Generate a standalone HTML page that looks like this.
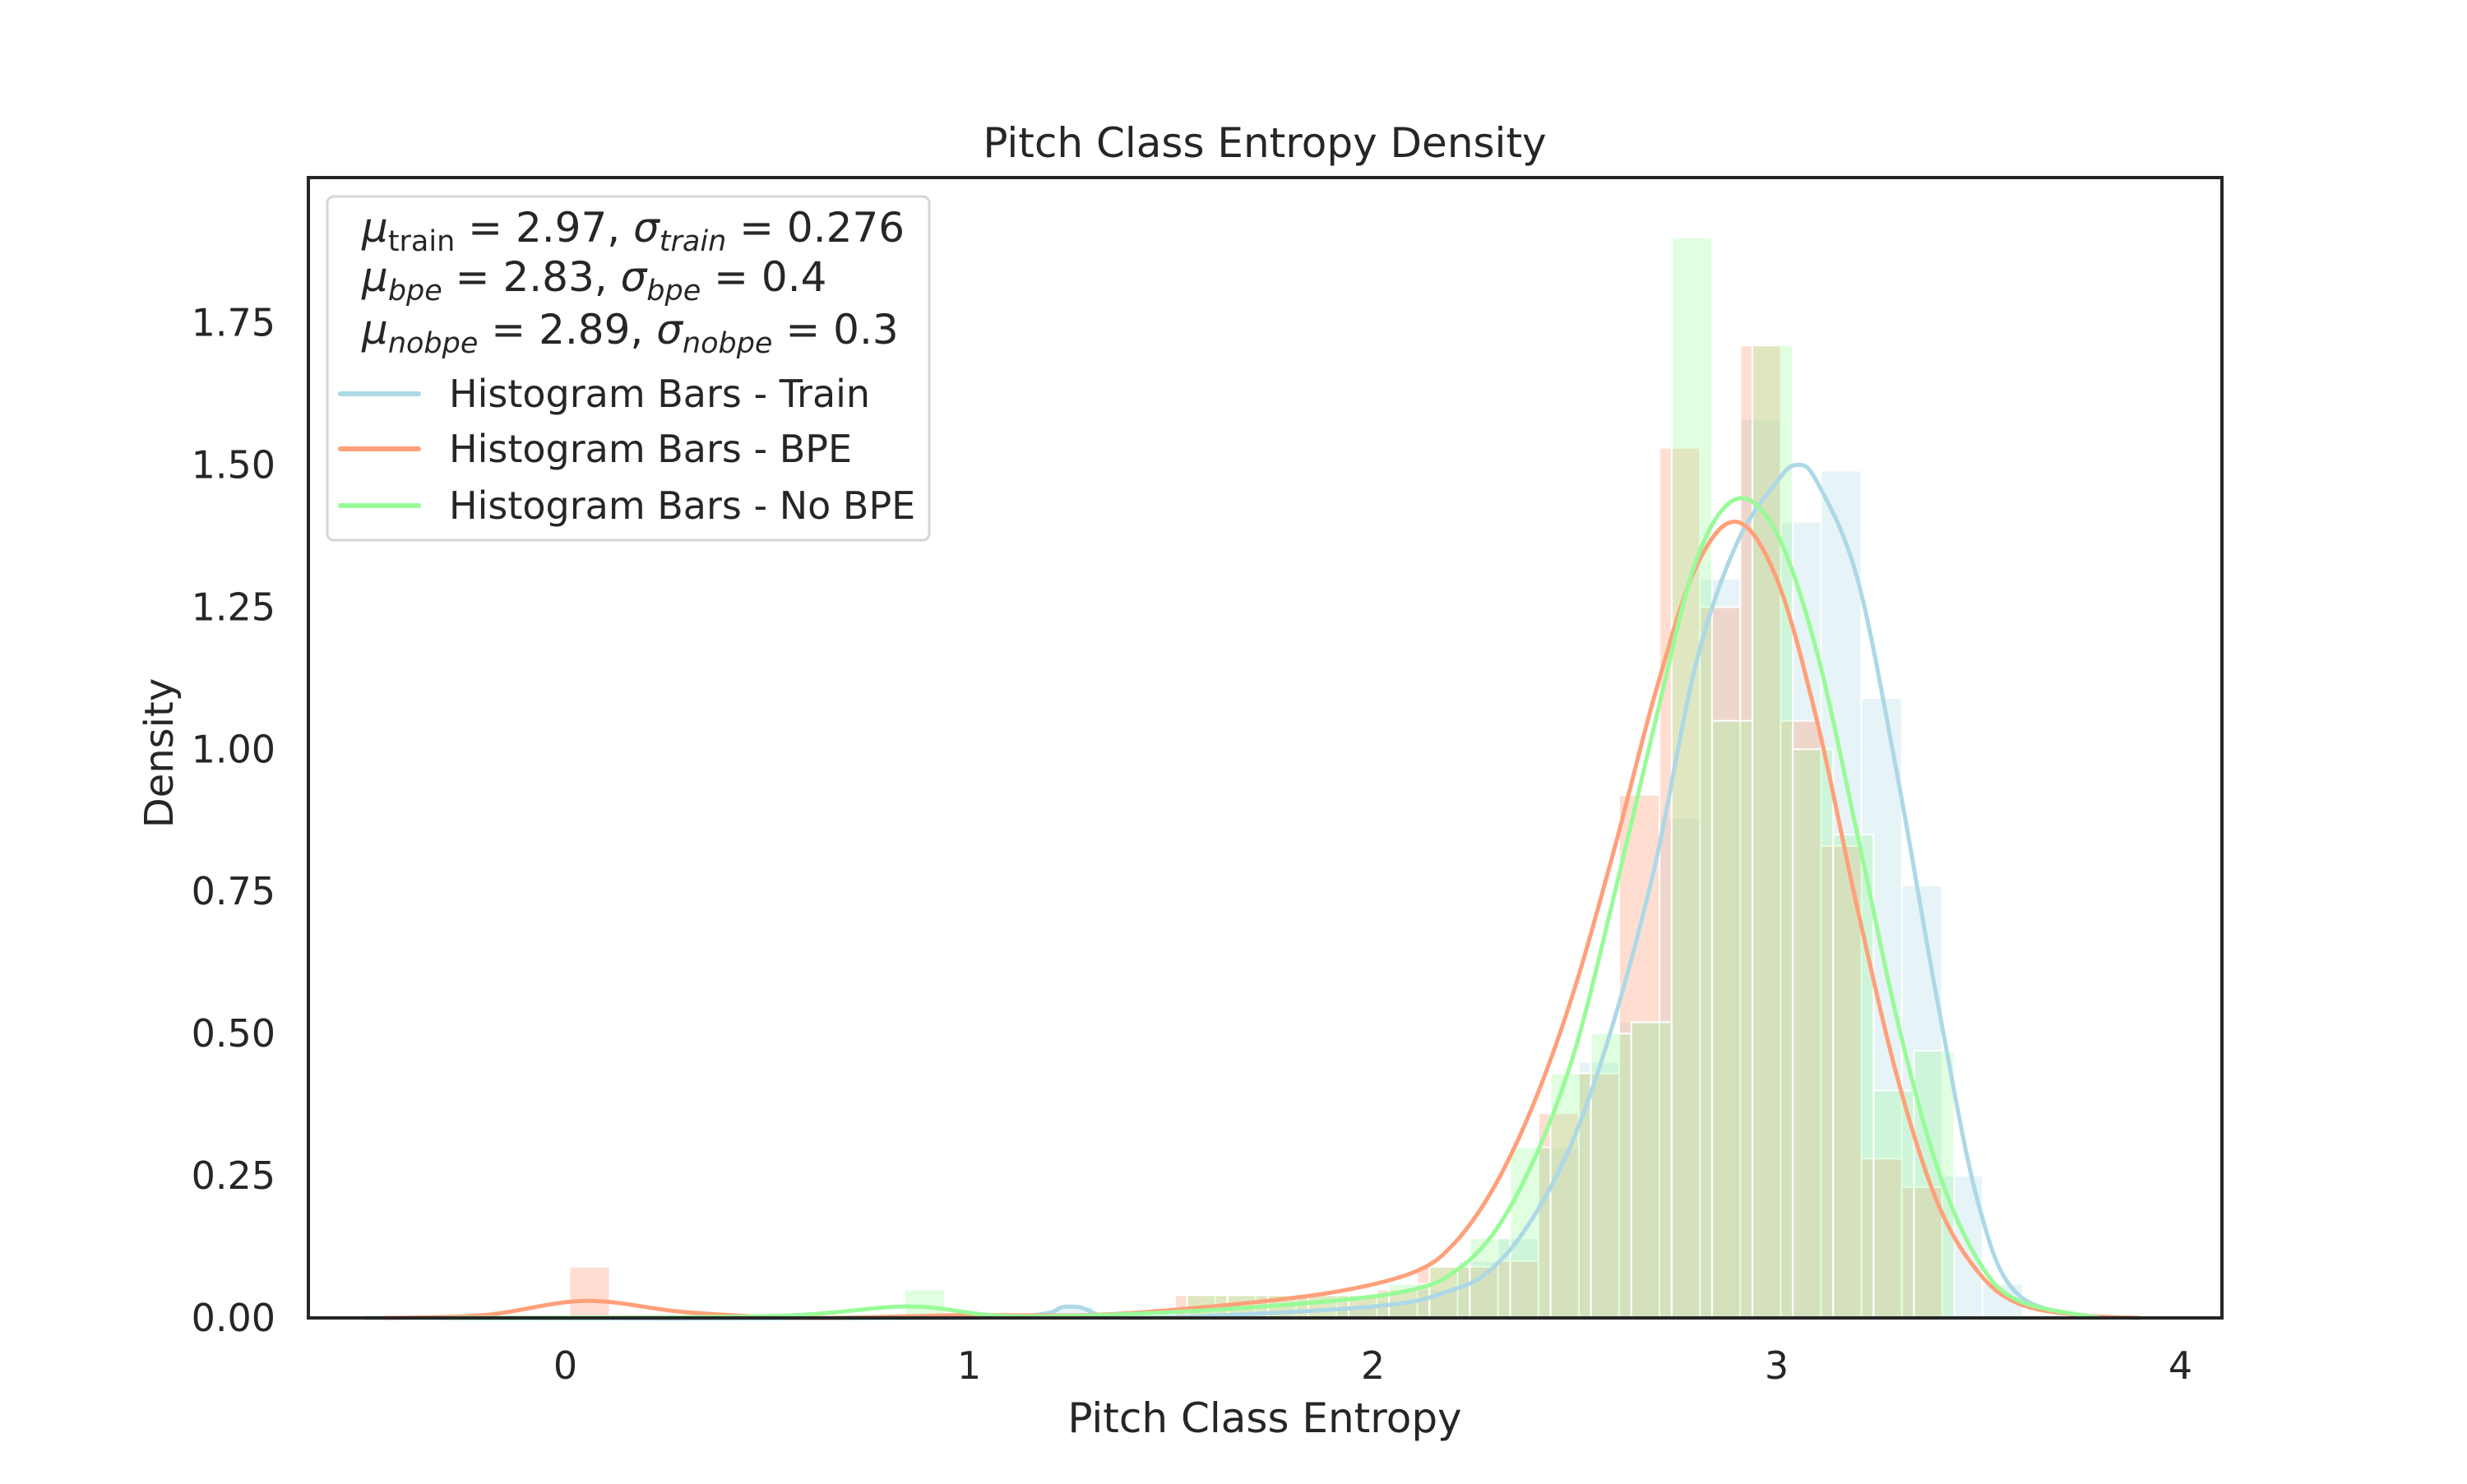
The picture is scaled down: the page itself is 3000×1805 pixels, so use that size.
<!DOCTYPE html>
<html><head><meta charset="utf-8"><style>
html,body{margin:0;padding:0;background:#fff;}
svg text{font-family:"DejaVu Sans","Liberation Sans",sans-serif;fill:#262626;}
</style></head><body>
<svg id="chart" width="3000" height="1800" viewBox="0 0 3000 1800" xmlns="http://www.w3.org/2000/svg">
<rect width="3000" height="1800" fill="#fff"/>
<g id="bars"></g>
<g id="curves"></g>
<rect x="375" y="216" width="2327" height="1387" fill="none" stroke="#262626" stroke-width="4"/>
<g id="ticks"></g>
<text x="1538" y="191" font-size="50" text-anchor="middle">Pitch Class Entropy Density</text>
<text x="1538" y="1742" font-size="50" text-anchor="middle">Pitch Class Entropy</text>
<text transform="translate(210,916) rotate(-90)" font-size="48" text-anchor="middle">Density</text>
<g>
<rect x="398" y="239" width="732" height="418" rx="8" fill="#fff" fill-opacity="0.8" stroke="#d6d6d6" stroke-width="3"/>
<text x="440" y="294" font-size="50"><tspan font-style="italic">μ</tspan><tspan font-size="35" dy="11">train</tspan><tspan dy="-11"> = 2.97,  </tspan><tspan font-style="italic">σ</tspan><tspan font-size="35" dy="11" font-style="italic">train</tspan><tspan dy="-11"> = 0.276</tspan></text>
<text x="440" y="354" font-size="50"><tspan font-style="italic">μ</tspan><tspan font-size="35" dy="11" font-style="italic">bpe</tspan><tspan dy="-11"> = 2.83,  </tspan><tspan font-style="italic">σ</tspan><tspan font-size="35" dy="11" font-style="italic">bpe</tspan><tspan dy="-11"> = 0.4</tspan></text>
<text x="440" y="418" font-size="50"><tspan font-style="italic">μ</tspan><tspan font-size="35" dy="11" font-style="italic">nobpe</tspan><tspan dy="-11"> = 2.89,  </tspan><tspan font-style="italic">σ</tspan><tspan font-size="35" dy="11" font-style="italic">nobpe</tspan><tspan dy="-11"> = 0.3</tspan></text>
<line x1="414" y1="479" x2="509" y2="479" stroke="#add8e6" stroke-width="6" stroke-linecap="round"/>
<text x="546" y="495" font-size="46">Histogram Bars - Train</text>
<line x1="414" y1="546" x2="509" y2="546" stroke="#ffa07a" stroke-width="6" stroke-linecap="round"/>
<text x="546" y="562" font-size="46">Histogram Bars - BPE</text>
<line x1="414" y1="615" x2="509" y2="615" stroke="#98fb98" stroke-width="6" stroke-linecap="round"/>
<text x="546" y="631" font-size="46">Histogram Bars - No BPE</text>
</g>
</svg>
<script>
const xTicks=[0,1,2,3,4];
const yTicks=[0,0.25,0.5,0.75,1.0,1.25,1.5,1.75];
const yTickLabels=["0.00","0.25","0.50","0.75","1.00","1.25","1.50","1.75"];
const binWidth=0.1;
const trainBins=[1.21,1.91,2.01,2.11,2.21,2.31,2.41,2.51,2.61,2.71,2.81,2.91,3.01,3.11,3.21,3.31,3.41,3.51];
const trainHeights=[0.02,0.02,0.03,0.05,0.1,0.14,0.3,0.45,0.52,0.88,1.3,1.58,1.4,1.49,1.09,0.76,0.25,0.06];
const bpeBins=[0.01,1.51,1.61,1.71,1.81,1.91,2.01,2.11,2.21,2.31,2.41,2.51,2.61,2.71,2.81,2.91,3.01,3.11,3.21,3.31];
const bpeHeights=[0.09,0.04,0.04,0.04,0.04,0.04,0.05,0.09,0.09,0.1,0.36,0.43,0.92,1.53,1.25,1.71,1.05,0.83,0.28,0.23];
const nobpeBins=[0.84,1.54,1.64,1.74,1.84,1.94,2.04,2.14,2.24,2.34,2.44,2.54,2.64,2.74,2.84,2.94,3.04,3.14,3.24,3.34];
const nobpeHeights=[0.05,0.04,0.04,0.04,0.04,0.04,0.06,0.09,0.14,0.3,0.43,0.5,0.52,1.9,1.05,1.71,1.0,0.85,0.4,0.47];
const trainKdeX=[-0.5,1.0,1.25,1.4,2.0,2.2,2.3,2.4,2.5,2.6,2.7,2.8,2.9,3.0,3.05,3.1,3.2,3.3,3.4,3.5,3.6,3.8];
const trainKdeY=[0,0,0.02,0,0.02,0.05,0.09,0.18,0.32,0.53,0.8,1.15,1.36,1.47,1.5,1.47,1.3,0.95,0.55,0.2,0.04,0];
const bpeKdeX=[-0.45,-0.2,0.05,0.3,0.6,1.0,1.3,1.6,1.9,2.1,2.2,2.3,2.4,2.5,2.6,2.7,2.8,2.9,3.0,3.1,3.2,3.3,3.4,3.5,3.6,3.75,3.9];
const bpeKdeY=[0,0.005,0.03,0.01,0,0.005,0.005,0.02,0.045,0.08,0.13,0.23,0.38,0.58,0.83,1.1,1.32,1.40,1.3,1.05,0.72,0.42,0.2,0.08,0.025,0.005,0];
const nobpeKdeX=[-0.3,0.5,0.85,1.1,1.5,1.9,2.1,2.2,2.3,2.4,2.5,2.6,2.7,2.8,2.9,3.0,3.1,3.2,3.3,3.4,3.5,3.6,3.8];
const nobpeKdeY=[0,0.003,0.02,0.003,0.01,0.03,0.05,0.08,0.15,0.28,0.47,0.75,1.05,1.33,1.44,1.38,1.17,0.85,0.52,0.26,0.1,0.03,0];

const NS="http://www.w3.org/2000/svg";
const X0=687.5, XU=491, Y0=1603, YU=691.7;
function sx(v){return X0+v*XU;}
function sy(v){return Y0-v*YU;}
function mk(t,a){const e=document.createElementNS(NS,t);for(const k in a)e.setAttribute(k,a[k]);return e;}
const barsG=document.getElementById('bars');
function drawBars(bins,hs,color,op,name){
  bins.forEach((b,i)=>{
    const r=mk('rect',{x:sx(b),y:sy(hs[i]),width:binWidth*XU,height:hs[i]*YU,fill:color,'fill-opacity':op,stroke:'#fff','stroke-width':2});
    
    
    barsG.appendChild(r);
  });
}
drawBars(trainBins,trainHeights,'#add8e6',0.3,'train');
drawBars(bpeBins,bpeHeights,'#ffa07a',0.35,'bpe');
drawBars(nobpeBins,nobpeHeights,'#98fb98',0.3,'nobpe');
const curvesG=document.getElementById('curves');
function drawCurve(xs,ys,color,name){
  const p=xs.map((x,i)=>[sx(x),sy(ys[i])]);
  let d='M'+p[0][0]+','+p[0][1];
  for(let i=0;i<p.length-1;i++){
    const a=p[Math.max(0,i-1)],b=p[i],c=p[i+1],e=p[Math.min(p.length-1,i+2)];
    const c1=[b[0]+(c[0]-a[0])/6,b[1]+(c[1]-a[1])/6],c2=[c[0]-(e[0]-b[0])/6,c[1]-(e[1]-b[1])/6];
    d+=' C'+c1+' '+c2+' '+c;
  }
  const path=mk('path',{d:d,fill:'none',stroke:color,'stroke-width':5});
  
  
  curvesG.appendChild(path);
}
drawCurve(trainKdeX,trainKdeY,'#add8e6','train');
drawCurve(bpeKdeX,bpeKdeY,'#ffa07a','bpe');
drawCurve(nobpeKdeX,nobpeKdeY,'#98fb98','nobpe');
const tg=document.getElementById('ticks');
xTicks.forEach(t=>{
  const e=mk('text',{x:sx(t),y:1677,'font-size':46,'text-anchor':'middle'});
  e.textContent=t;
  
  
  tg.appendChild(e);
});
yTicks.forEach((t,i)=>{
  const e=mk('text',{x:335,y:sy(t)+16,'font-size':46,'text-anchor':'end'});
  e.textContent=yTickLabels[i];
  
  
  tg.appendChild(e);
});
</script>
</body></html>
